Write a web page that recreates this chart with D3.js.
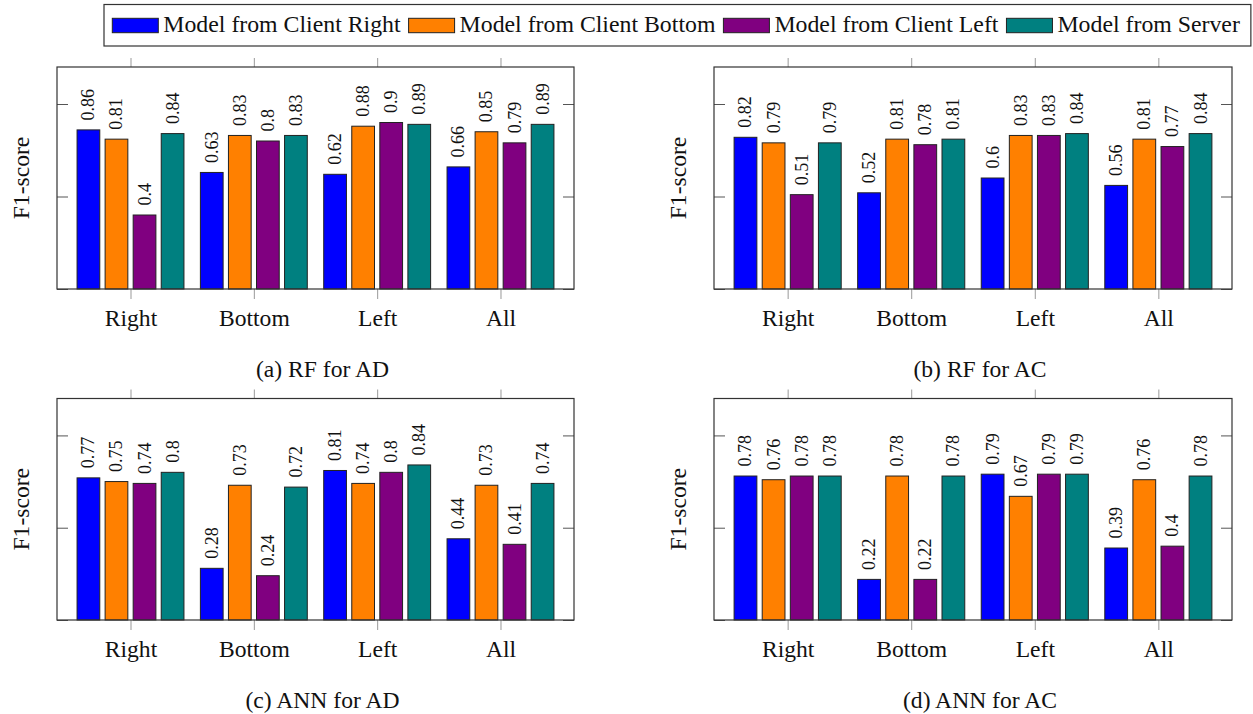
<!DOCTYPE html>
<html>
<head>
<meta charset="utf-8">
<script src="https://cdn.jsdelivr.net/npm/d3@7"></script>
<style>
  body { margin: 0; background: #fff; }
  svg { display: block; font-family: "Liberation Serif", "Times New Roman", serif; }
</style>
</head>
<body>
<div id="chart"></div>
<script>
// categories and series
const categories = ["Right", "Bottom", "Left", "All"];
const seriesNames = ["Model from Client Right", "Model from Client Bottom", "Model from Client Left", "Model from Server"];
const seriesColors = ["#0000ff", "#ff8000", "#800080", "#008080"];
const yTicks = [0, 0.5, 1];

// values per category, one entry per series
const rfAD = [[0.86, 0.81, 0.4, 0.84], [0.63, 0.83, 0.8, 0.83], [0.62, 0.88, 0.9, 0.89], [0.66, 0.85, 0.79, 0.89]];
const rfAC = [[0.82, 0.79, 0.51, 0.79], [0.52, 0.81, 0.78, 0.81], [0.6, 0.83, 0.83, 0.84], [0.56, 0.81, 0.77, 0.84]];
const annAD = [[0.77, 0.75, 0.74, 0.8], [0.28, 0.73, 0.24, 0.72], [0.81, 0.74, 0.8, 0.84], [0.44, 0.73, 0.41, 0.74]];
const annAC = [[0.78, 0.76, 0.78, 0.78], [0.22, 0.78, 0.22, 0.78], [0.79, 0.67, 0.79, 0.79], [0.39, 0.76, 0.4, 0.78]];

const captions = ["(a) RF for AD", "(b) RF for AC", "(c) ANN for AD", "(d) ANN for AC"];

const width = 1253, height = 714;
const fontFam = "Liberation Serif, Times New Roman, serif";
const svg = d3.select("#chart").append("svg")
  .attr("width", width)
  .attr("height", height);

const panels = [
  {data: rfAD, x0: 57, x1: 574, y0: 67, y1: 289},
  {data: rfAC, x0: 714, x1: 1232, y0: 67, y1: 289},
  {data: annAD, x0: 57, x1: 574, y0: 398.5, y1: 620},
  {data: annAC, x0: 714, x1: 1232, y0: 398.5, y1: 620}
];

function drawPanel(p, i){
  let g = svg.append("g");
  let x = d3.scalePoint().domain(categories).range([p.x0, p.x1]).padding(0.596);
  let y = d3.scaleLinear().domain([0, 1.2]).range([p.y1, p.y0]);
  let step = x.step();
  let xs = d3.scaleBand().domain(seriesNames)
    .range([-step * 0.455, step * 0.455])
    .paddingInner(0.19).paddingOuter(0.095);

  // y ticks, inward on both sides
  g.append("g").attr("transform", `translate(${p.x0},0)`)
    .call(d3.axisLeft(y).tickValues(yTicks).tickSize(-11).tickFormat(""))
    .call(a => a.select(".domain").remove())
    .selectAll("line").attr("stroke", "#555");
  g.append("g").attr("transform", `translate(${p.x1},0)`)
    .call(d3.axisRight(y).tickValues(yTicks).tickSize(-11).tickFormat(""))
    .call(a => a.select(".domain").remove())
    .selectAll("line").attr("stroke", "#555");

  // x ticks outside, labels below
  g.append("g").attr("transform", `translate(0,${p.y0})`)
    .call(d3.axisTop(x).tickSize(9).tickFormat(""))
    .call(a => a.select(".domain").remove())
    .selectAll("line").attr("stroke", "#999");
  let xb = g.append("g").attr("transform", `translate(0,${p.y1})`)
    .call(d3.axisBottom(x).tickSize(10).tickPadding(10.5))
    .call(a => a.select(".domain").remove());
  xb.selectAll("line").attr("stroke", "#999");
  xb.selectAll("text")
    .attr("font-family", fontFam)
    .attr("font-size", 23.6)
    .attr("fill", "#111");

  // bars
  let groups = g.selectAll(".grp")
    .data(p.data)
    .enter().append("g")
    .attr("transform", (d, k) => `translate(${x(categories[k])},0)`);

  groups.selectAll("rect")
    .data(d => d)
    .enter().append("rect")
    .attr("x", (v, j) => xs(seriesNames[j]))
    .attr("y", v => y(v))
    .attr("width", xs.bandwidth())
    .attr("height", v => y(0) - y(v))
    .attr("fill", (v, j) => seriesColors[j])
    .attr("stroke", "#222")
    .attr("stroke-width", 1);

  groups.selectAll("text")
    .data(d => d)
    .enter().append("text")
    .attr("transform", (v, j) => `translate(${xs(seriesNames[j]) + xs.bandwidth() / 2},${y(v) - 9.5}) rotate(-90)`)
    .attr("dominant-baseline", "central")
    .attr("font-size", 18)
    .attr("fill", "#111")
    .text(v => v);

  // frame
  g.append("rect")
    .attr("x", p.x0).attr("y", p.y0)
    .attr("width", p.x1 - p.x0).attr("height", p.y1 - p.y0)
    .attr("fill", "none")
    .attr("stroke", "#333")
    .attr("stroke-width", 1.2);

  // y label
  g.append("text")
    .attr("transform", `translate(${p.x0 - 36},${(p.y0 + p.y1) / 2}) rotate(-90)`)
    .attr("text-anchor", "middle")
    .attr("dominant-baseline", "central")
    .attr("font-size", 23.6)
    .attr("fill", "#111")
    .text("F1-score");

  // caption
  g.append("text")
    .attr("x", (p.x0 + p.x1) / 2 + 7)
    .attr("y", p.y1 + 88)
    .attr("text-anchor", "middle")
    .attr("font-size", 23.6)
    .attr("fill", "#111")
    .text(captions[i]);
}

panels.forEach(drawPanel);

// legend
let legend = svg.append("g");
let box = legend.append("rect")
  .attr("x", 104).attr("y", 4.5)
  .attr("height", 41.5)
  .attr("fill", "#fff")
  .attr("stroke", "#333")
  .attr("stroke-width", 1.2);

let lx = 112.3;
seriesNames.forEach((name, j) => {
  legend.append("rect")
    .attr("x", lx).attr("y", 18.3)
    .attr("width", 46).attr("height", 14.4)
    .attr("fill", seriesColors[j])
    .attr("stroke", "#222");
  let t = legend.append("text")
    .attr("x", lx + 51).attr("y", 32)
    .attr("font-size", 23.8)
    .attr("fill", "#111")
    .text(name);
  lx += 51 + t.node().getComputedTextLength() + 8;
});
box.attr("width", lx + 3 - 104);
</script>
</body>
</html>
